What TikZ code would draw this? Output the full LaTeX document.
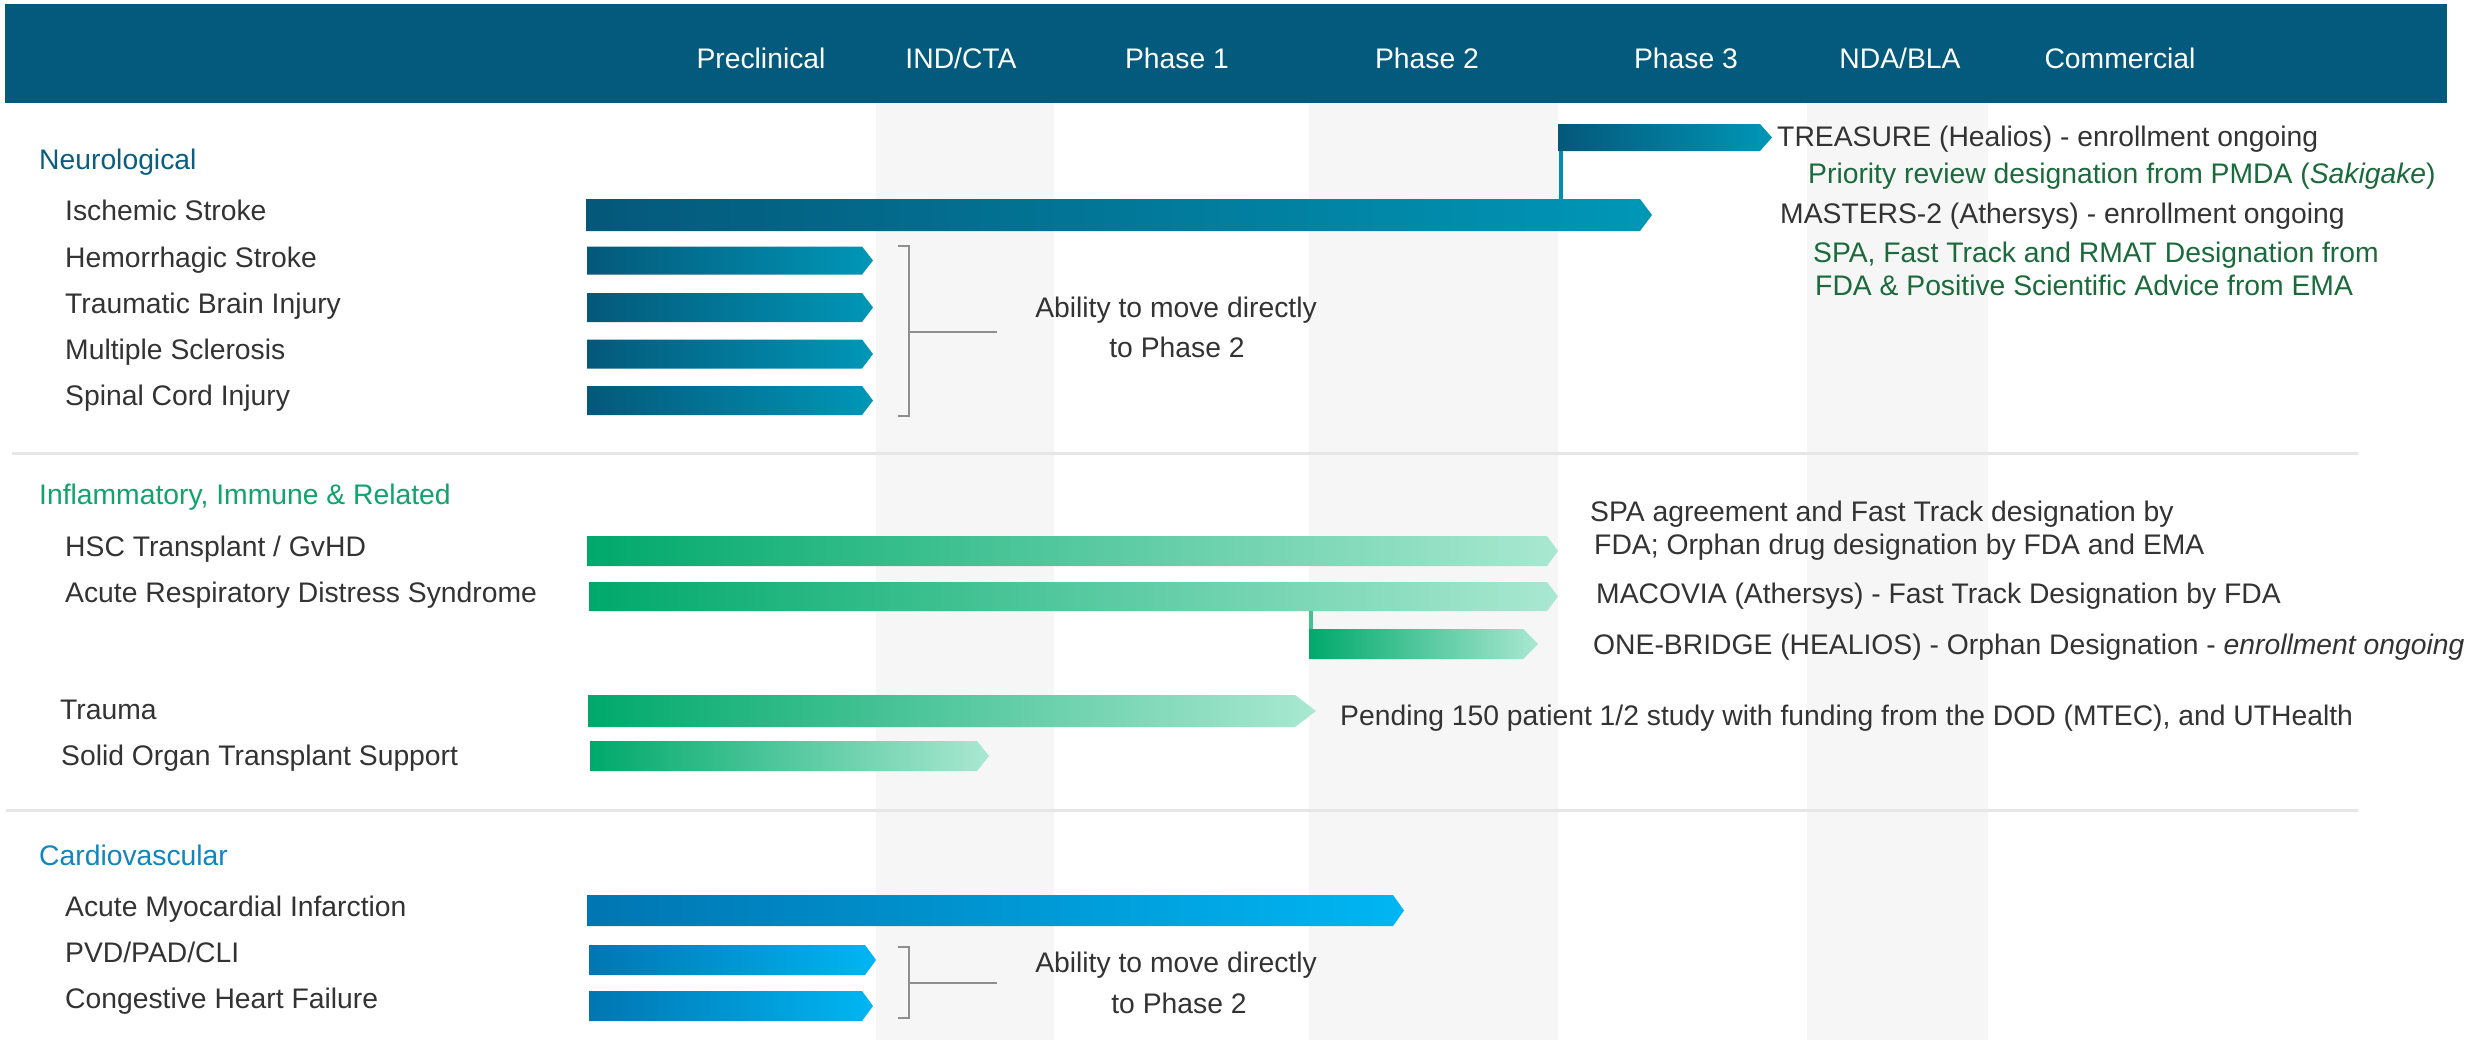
\documentclass[tikz,border=0pt]{standalone}
\usepackage{fontspec}
\setmainfont{Liberation Sans}
\definecolor{band}{HTML}{035A7D}
\definecolor{colgray}{HTML}{F6F6F6}
\definecolor{sepgray}{HTML}{E6E6E6}
\definecolor{brkgray}{HTML}{8F8F8F}
\definecolor{txt}{HTML}{333333}
\definecolor{ngreen}{HTML}{1B6A3B}
\definecolor{hneuro}{HTML}{0B5E80}
\definecolor{hinfl}{HTML}{10A36B}
\definecolor{hcardio}{HTML}{1085BE}
\definecolor{neuL}{HTML}{04587A}
\definecolor{neuR}{HTML}{0097B7}
\definecolor{grnL}{HTML}{00A96B}
\definecolor{grnR}{HTML}{A9E8D2}
\definecolor{carL}{HTML}{0076B2}
\definecolor{carR}{HTML}{00B6F3}
\newcommand\lblfont{\fontsize{28.4}{34}\selectfont}
\newcommand\pbar[8]{%
  \shade[left color=#7, right color=#8] (#2,#4-#5) -- (#3-#6,#4-#5) -- (#3,#4) -- (#3-#6,#4+#5) -- (#2,#4+#5) -- cycle;
  \coordinate (#1-nw) at (#2,#4-#5);
  \coordinate (#1-sw) at (#2,#4+#5);
  \coordinate (#1-w) at (#2,#4);
  \coordinate (#1-e) at (#3,#4);
}
\tikzset{
  lbl/.style={anchor=base west, inner sep=0pt, text=txt, font=\lblfont},
  hdr/.style={anchor=base, inner sep=0pt, text=white, font=\lblfont},
  sec/.style={anchor=base west, inner sep=0pt, font=\lblfont},
  gnote/.style={anchor=base west, inner sep=0pt, text=ngreen, font=\lblfont},
  ctr/.style={anchor=base, inner sep=0pt, text=txt, font=\lblfont},
  brk/.style={draw=brkgray, line width=2bp},
  sepline/.style={draw=sepgray, line width=3bp},
}
\begin{document}
\begin{tikzpicture}[x=1bp,y=-1bp]
\useasboundingbox (0,0) rectangle (2488,1040);
\fill[white] (0,0) rectangle (2488,1040);
% phase columns
\fill[colgray] (876,103) rectangle (1054,1040);
\fill[colgray] (1309,103) rectangle (1558,1040);
\fill[colgray] (1807,103) rectangle (1988,1040);
% header band
\fill[band] (5,4) rectangle (2447,103);
\node[hdr] (hpre) at (761,68) {Preclinical};
\node[hdr] (hind) at (961,68) {IND/CTA};
\node[hdr] (hp1) at (1177,68) {Phase 1};
\node[hdr] (hp2) at (1427,68) {Phase 2};
\node[hdr] (hp3) at (1686,68) {Phase 3};
\node[hdr] (hnda) at (1900,68) {NDA/BLA};
\node[hdr] (hcom) at (2120,68) {Commercial};
% separators
\draw[sepline] (12,453) -- (2358,453);
\draw[sepline] (6,810) -- (2358,810);

% ---------- Neurological ----------
\node[sec, text=hneuro] (sneuro) at (39,169) {Neurological};
\node[lbl] (lisch) at (65,220) {Ischemic Stroke};
\node[lbl] (lhem) at (65,267) {Hemorrhagic Stroke};
\node[lbl] (ltbi) at (65,313) {Traumatic Brain Injury};
\node[lbl] (lms) at (65,359) {Multiple Sclerosis};
\node[lbl] (lsci) at (65,405) {Spinal Cord Injury};

\pbar{isch}{586}{1652}{215}{16}{12}{neuL}{neuR}
\pbar{trea}{1558}{1772}{137.5}{13.5}{12}{neuL}{neuR}
\pbar{hem}{587}{873}{260.5}{14}{11}{neuL}{neuR}
\pbar{tbi}{587}{873}{307.5}{14.5}{11}{neuL}{neuR}
\pbar{ms}{587}{873}{354}{14.5}{11}{neuL}{neuR}
\pbar{sci}{587}{873}{400.5}{14.5}{11}{neuL}{neuR}
\draw[draw=neuR!85!neuL, line width=4bp] ([xshift=3bp]trea-sw) -- ([xshift=3bp]trea-sw |- isch-nw);

\coordinate (b1t) at (909,246);
\coordinate (b1b) at (909,416);
\coordinate (b1m) at (909,332);
\draw[brk] ([xshift=-11bp]b1t) -- (b1t) -- (b1b) -- ([xshift=-11bp]b1b);
\draw[brk] (b1m) -- ++(88,0) coordinate (b1e);
\node[ctr] (abl1) at (1176,317) {Ability to move directly};
\node[ctr] (abl1b) at (1177,357) {to Phase 2};

\node[lbl] (ttrea) at (1777,146) {TREASURE (Healios) - enrollment ongoing};
\node[gnote] (tprio) at (1808,183) {Priority review designation from PMDA (\textit{Sakigake})};
\node[lbl] (tmast) at (1780,223) {MASTERS-2 (Athersys) - enrollment ongoing};
\node[gnote] (tspa1) at (1813,262) {SPA, Fast Track and RMAT Designation from};
\node[gnote] (tspa2) at (1815,295) {FDA \& Positive Scientific Advice from EMA};

% ---------- Inflammatory ----------
\node[sec, text=hinfl] (sinfl) at (39,504) {Inflammatory, Immune \& Related};
\node[lbl] (lhsc) at (65,556) {HSC Transplant / GvHD};
\node[lbl] (lards) at (65,602) {Acute Respiratory Distress Syndrome};
\node[lbl] (ltrau) at (60,719) {Trauma};
\node[lbl] (lsol) at (61,765) {Solid Organ Transplant Support};

\pbar{hsc}{587}{1558}{551}{15}{11}{grnL}{grnR}
\pbar{ards}{589}{1558}{596.5}{14.5}{11}{grnL}{grnR}
\pbar{onebr}{1309}{1538}{644}{15}{15}{grnL}{grnR}
\pbar{trau}{588}{1316}{711}{16}{21}{grnL}{grnR}
\pbar{sol}{590}{989}{756}{15}{12}{grnL}{grnR}
\draw[draw=grnL!60!grnR, line width=4bp] ([xshift=2bp]onebr-nw) -- ([xshift=2bp]onebr-nw |- ards-sw);

\node[lbl] (thsc1) at (1590,521) {SPA agreement and Fast Track designation by};
\node[lbl] (thsc2) at (1594,554) {FDA; Orphan drug designation by FDA and EMA};
\node[lbl] (tmac) at (1596,603) {MACOVIA (Athersys) - Fast Track Designation by FDA};
\node[lbl] (tone) at (1593,654) {ONE-BRIDGE (HEALIOS) - Orphan Designation - \textit{enrollment ongoing}};
\node[lbl] (tpend) at (1340,725) {Pending 150 patient 1/2 study with funding from the DOD (MTEC), and UTHealth};

% ---------- Cardiovascular ----------
\node[sec, text=hcardio] (scard) at (39,865) {Cardiovascular};
\node[lbl] (lami) at (65,916) {Acute Myocardial Infarction};
\node[lbl] (lpvd) at (65,962) {PVD/PAD/CLI};
\node[lbl] (lchf) at (65,1008) {Congestive Heart Failure};

\pbar{ami}{587}{1404}{910.5}{15.5}{11}{carL}{carR}
\pbar{pvd}{589}{876}{960}{15}{11}{carL}{carR}
\pbar{chf}{589}{873}{1006}{15}{11}{carL}{carR}

\coordinate (b2t) at (909,947);
\coordinate (b2b) at (909,1018);
\coordinate (b2m) at (909,983);
\draw[brk] ([xshift=-11bp]b2t) -- (b2t) -- (b2b) -- ([xshift=-11bp]b2b);
\draw[brk] (b2m) -- ++(88,0) coordinate (b2e);
\node[ctr] (abl2) at (1176,972) {Ability to move directly};
\node[ctr] (abl2b) at (1179,1013) {to Phase 2};
\end{tikzpicture}
\end{document}
